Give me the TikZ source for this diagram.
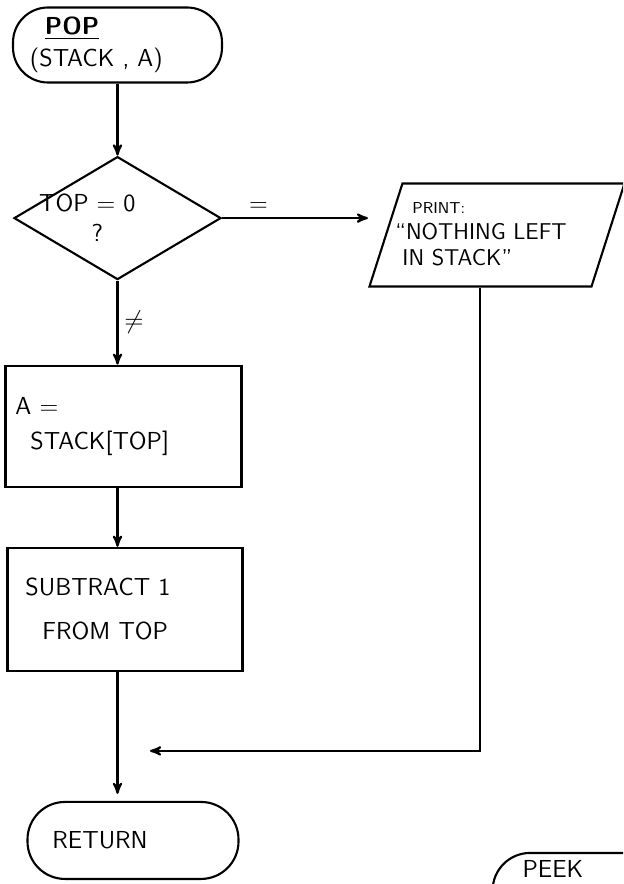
\documentclass[tikz,border=0pt]{standalone}
\usepackage{amsmath}
\usepackage{tikz}
\usetikzlibrary{arrows, positioning, shapes}
\tikzset{font=\sffamily\fontsize{14}{17}\selectfont}
\tikzset{terminal/.style={rectangle, draw=black, line width=1.2pt, inner xsep=0pt, align=left}}
\tikzset{process/.style={rectangle, draw=black, line width=1.2pt, inner xsep=0pt, align=left}}
\tikzset{decision/.style={diamond, draw=black, line width=1.2pt, minimum width=4.14cm, minimum height=2.46cm, inner sep=0pt}}
\tikzset{io/.style={trapezium, trapezium left angle=67, trapezium right angle=113, draw=black, line width=1.2pt, trapezium stretches body}}
\tikzset{flow/.style={->, >=stealth', line width=1.2pt}}

\begin{document}
\begin{tikzpicture}[auto, node distance=1.44cm]
  \path[use as bounding box, clip] (-2.35,0.9) rectangle (10.11,-16.78);
  %Nodes
  \node[terminal, rounded corners=0.7cm, minimum width=4.18cm, minimum height=1.5cm, text width=3.5cm] (pop)
    {\hspace{0.3cm}\underline{\textbf{POP}}\\[1pt](STACK , A)};
  \node[decision] (dec) [below=of pop] {};
  \node[align=left] (dectext) [right=0.4cm of dec.west] {TOP = 0\\\hspace{1.05cm}?};
  \node[io, minimum height=2.06cm, minimum width=5.1cm, text width=3.3cm, align=left, text depth=1.1cm,
    font=\sffamily\fontsize{13}{15}\selectfont, anchor=bottom left corner] (print)
    at ([xshift=5.01cm, yshift=-1.39cm]dec.center)
    {\hspace*{-0.04cm}{\small PRINT:}\\\hspace*{-0.38cm}\textquotedblleft NOTHING LEFT\\\hspace*{-0.24cm}IN STACK\textquotedblright};
  \node[process, minimum width=4.72cm, minimum height=2.42cm, text width=4.32cm] (assign)
    [below=1.68cm of dec, xshift=0.12cm] {A =\\[3pt]\hspace{0.3cm}STACK[TOP]};
  \node[process, minimum width=4.7cm, minimum height=2.46cm, text width=3.98cm] (subtract)
    [below=1.18cm of assign, xshift=0.03cm] {SUBTRACT 1\\[8pt]\hspace{0.34cm}FROM TOP};
  \node[terminal, rounded corners=0.75cm, minimum width=4.22cm, minimum height=1.54cm, text width=3.22cm] (ret)
    [below=2.58cm of subtract, xshift=0.16cm] {RETURN};
  \node[terminal, rounded corners=0.75cm, minimum width=4cm, minimum height=1.54cm, text width=2.8cm,
    inner ysep=0.1cm, text depth=0.88cm] (peek) [right=5.04cm of ret, yshift=-1.02cm] {PEEK};
  \coordinate[below=1.58cm of subtract.south, xshift=0.5cm] (merge);
  % Edges
  \draw[flow] (pop) -- (dec);
  \draw[flow] (dec.east) -- node[near start]{=} (dec.east -| print.bottom left corner);
  \draw[flow] (dec.south) -- node{\Large$\neq$} (dec.south |- assign.north);
  \draw[flow] (assign.south -| dec.south) -- (subtract.north -| dec.south);
  \draw[flow, shorten >=0.14cm] (subtract.south -| dec.south) -- (ret.north -| dec.south);
  \draw[flow] (print.bottom side) |- (merge);
\end{tikzpicture}
\end{document}
